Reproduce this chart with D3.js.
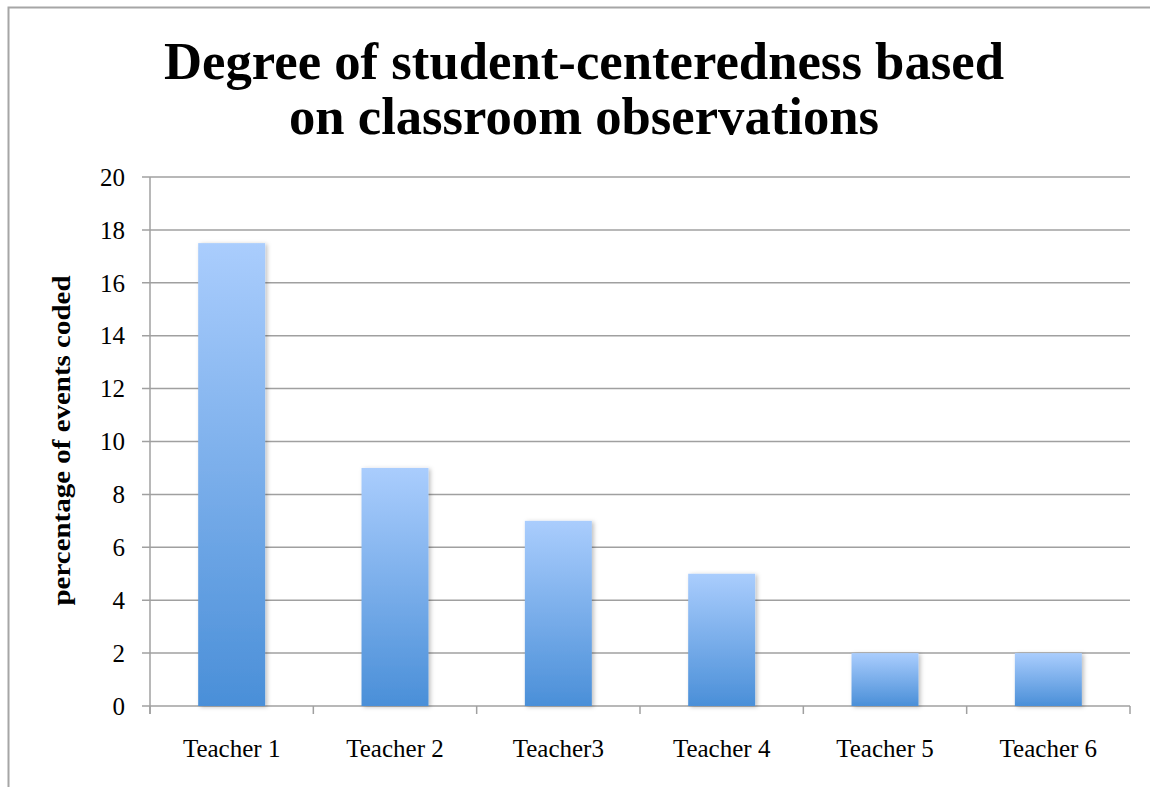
<!DOCTYPE html>
<html>
<head>
<meta charset="utf-8">
<script src="https://cdn.jsdelivr.net/npm/d3@7"></script>
<style>
  html, body { margin: 0; padding: 0; background: #fff; }
  svg { display: block; }
</style>
</head>
<body>
<svg id="chart" width="1150" height="787"></svg>
<script>
const categories = ["Teacher 1", "Teacher 2", "Teacher3", "Teacher 4", "Teacher 5", "Teacher 6"];
const values = [17.5, 9, 7, 5, 2, 2];
const yTicks = [0, 2, 4, 6, 8, 10, 12, 14, 16, 18, 20];
const titleLines = ["Degree of student-centeredness based", "on classroom observations"];
const yAxisTitle = "percentage of events coded";

(function () {
const svg = d3.select("#chart");
const W = 1150, H = 787;
const pL = 150, pR = 1130, pT = 177, pB = 706;
const serif = "'Liberation Serif', 'DejaVu Serif', serif";

// outer frame (top & left visible)
svg.append("path")
  .attr("d", `M8.5,${H} L8.5,7.5 L${W},7.5`)
  .attr("fill", "none").attr("stroke", "#a6a6a6").attr("stroke-width", 2);

const defs = svg.append("defs");
const grad = defs.append("linearGradient").attr("id", "barGrad")
  .attr("x1", 0).attr("y1", 0).attr("x2", 0).attr("y2", 1);
grad.append("stop").attr("offset", "0%").attr("stop-color", "#aacdfd");
grad.append("stop").attr("offset", "100%").attr("stop-color", "#4a8fd8");
const filt = defs.append("filter").attr("id", "shadow")
  .attr("x", "-20%").attr("y", "-10%").attr("width", "150%").attr("height", "130%");
filt.append("feDropShadow").attr("dx", 2).attr("dy", 1).attr("stdDeviation", 2)
  .attr("flood-color", "#000").attr("flood-opacity", 0.25);

const x = d3.scaleBand().domain(categories).range([pL, pR]).paddingInner(0.59).paddingOuter(0.295);
const xBoundary = d3.scaleLinear().domain([0, categories.length]).range([pL, pR]);
const y = d3.scaleLinear().domain([0, 20]).range([pB, pT]);

// gridlines
svg.append("g").selectAll("line").data(yTicks).join("line")
  .attr("x1", pL - 8).attr("x2", pR)
  .attr("y1", d => y(d)).attr("y2", d => y(d))
  .attr("stroke", "#a0a0a0").attr("stroke-width", 1.5);

// y axis line
svg.append("line").attr("x1", pL).attr("x2", pL).attr("y1", pT).attr("y2", pB + 8)
  .attr("stroke", "#a0a0a0").attr("stroke-width", 1.5);

// x category tick marks
svg.append("g").selectAll("line").data(d3.range(categories.length + 1)).join("line")
  .attr("x1", d => xBoundary(d)).attr("x2", d => xBoundary(d))
  .attr("y1", pB).attr("y2", pB + 8)
  .attr("stroke", "#a0a0a0").attr("stroke-width", 1.5);

// bars
svg.append("g").selectAll("rect").data(values).join("rect")
  .attr("x", (d, i) => x(categories[i]))
  .attr("width", x.bandwidth())
  .attr("y", d => y(d))
  .attr("height", d => y(0) - y(d))
  .attr("fill", "url(#barGrad)")
  .attr("filter", "url(#shadow)");

// y tick labels
svg.append("g").selectAll("text").data(yTicks).join("text")
  .attr("x", 125).attr("y", d => y(d))
  .attr("dy", "0.35em")
  .attr("text-anchor", "end")
  .attr("font-family", serif).attr("font-size", 25).attr("fill", "#000")
  .text(d => d);

// x labels
svg.append("g").selectAll("text").data(categories).join("text")
  .attr("x", d => x(d) + x.bandwidth() / 2).attr("y", 757)
  .attr("text-anchor", "middle")
  .attr("font-family", serif).attr("font-size", 25).attr("fill", "#000")
  .text(d => d);

// y axis title
svg.append("text")
  .attr("transform", `translate(70,${(pT + pB) / 2 - 1}) rotate(-90)`)
  .attr("text-anchor", "middle")
  .attr("font-family", serif).attr("font-weight", "bold").attr("font-size", 25)
  .attr("textLength", 330).attr("lengthAdjust", "spacingAndGlyphs")
  .text(yAxisTitle);

// title
const titleWidths = [840, 590];
svg.append("g").selectAll("text").data(titleLines).join("text")
  .attr("x", 584).attr("y", (d, i) => 79 + i * 55)
  .attr("text-anchor", "middle")
  .attr("font-family", serif).attr("font-weight", "bold").attr("font-size", 52)
  .attr("textLength", (d, i) => titleWidths[i])
  .attr("lengthAdjust", "spacingAndGlyphs")
  .text(d => d);
})();
</script>
</body>
</html>
